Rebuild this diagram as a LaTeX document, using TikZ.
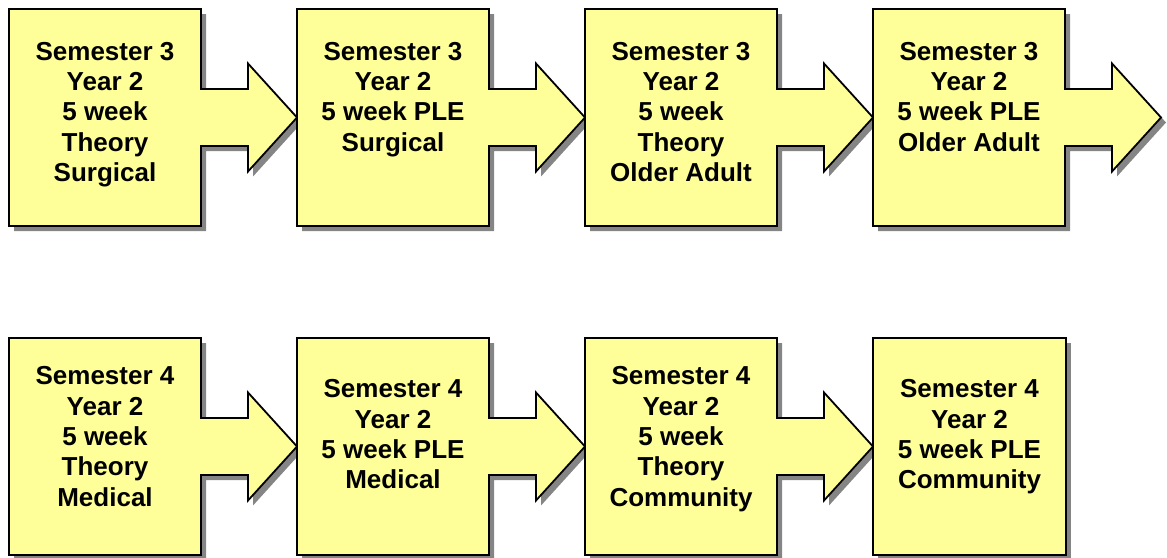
\documentclass[tikz,border=0pt]{standalone}
\usepackage{fontspec}
\setmainfont{Liberation Sans}
\definecolor{stagefill}{HTML}{FFFF99}
\definecolor{stageshadow}{HTML}{858585}
\tikzset{
  x=1pt, y=-1pt,
  stageline/.style={draw=black, line width=1.8pt, fill=stagefill, line join=miter},
  shadowfill/.style={fill=stageshadow, draw=none, shift={(5,5)}},
  stagetext/.style={align=center, anchor=north, inner sep=0pt,
    font=\fontsize{26}{30.3}\selectfont\bfseries},
  % square stage box with an arrow on its right side
  stagearrow/.pic={
    \path[shadowfill] (0,0) -- (192,0) -- (192,80) -- (239,80) -- (239,54.5)
      -- (288,108.5) -- (239,162.5) -- (239,137) -- (192,137) -- (192,217)
      -- (0,217) -- cycle;
    \path[stageline] (0,0) -- (192,0) -- (192,80) -- (239,80) -- (239,54.5)
      -- (288,108.5) -- (239,162.5) -- (239,137) -- (192,137) -- (192,217)
      -- (0,217) -- cycle;
  },
  % plain stage box
  stageplain/.pic={
    \path[shadowfill] (0,0) rectangle (193,217);
    \path[stageline] (0,0) rectangle (193,217);
  }
}
\newcommand{\firstline}{\rule{0pt}{0.8em}}
\begin{document}
\begin{tikzpicture}
\useasboundingbox (0,0) rectangle (1167,557);

% top row: semester 3
\pic at (9,9) {stagearrow};
\pic at (297,9) {stagearrow};
\pic at (585,9) {stagearrow};
\pic at (873,9) {stagearrow};

\node[stagetext] (t1) at (105,39.2) {\firstline Semester 3\\Year 2\\5 week\\Theory\\Surgical};
\node[stagetext] (t2) at (393,39.2) {\firstline Semester 3\\Year 2\\5 week PLE\\Surgical};
\node[stagetext] (t3) at (681,39.2) {\firstline Semester 3\\Year 2\\5 week\\Theory\\Older Adult};
\node[stagetext] (t4) at (969,39.2) {\firstline Semester 3\\Year 2\\5 week PLE\\Older Adult};

% bottom row: semester 4
\pic at (9,338) {stagearrow};
\pic at (297,338) {stagearrow};
\pic at (585,338) {stagearrow};
\pic at (873,338) {stageplain};

\node[stagetext] (b1) at (105,363.9) {\firstline Semester 4\\Year 2\\5 week\\Theory\\Medical};
\node[stagetext] (b2) at (393,376.9) {\firstline Semester 4\\Year 2\\5 week PLE\\Medical};
\node[stagetext] (b3) at (681,363.9) {\firstline Semester 4\\Year 2\\5 week\\Theory\\Community};
\node[stagetext] (b4) at (969.5,376.9) {\firstline Semester 4\\Year 2\\5 week PLE\\Community};
\end{tikzpicture}
\end{document}
